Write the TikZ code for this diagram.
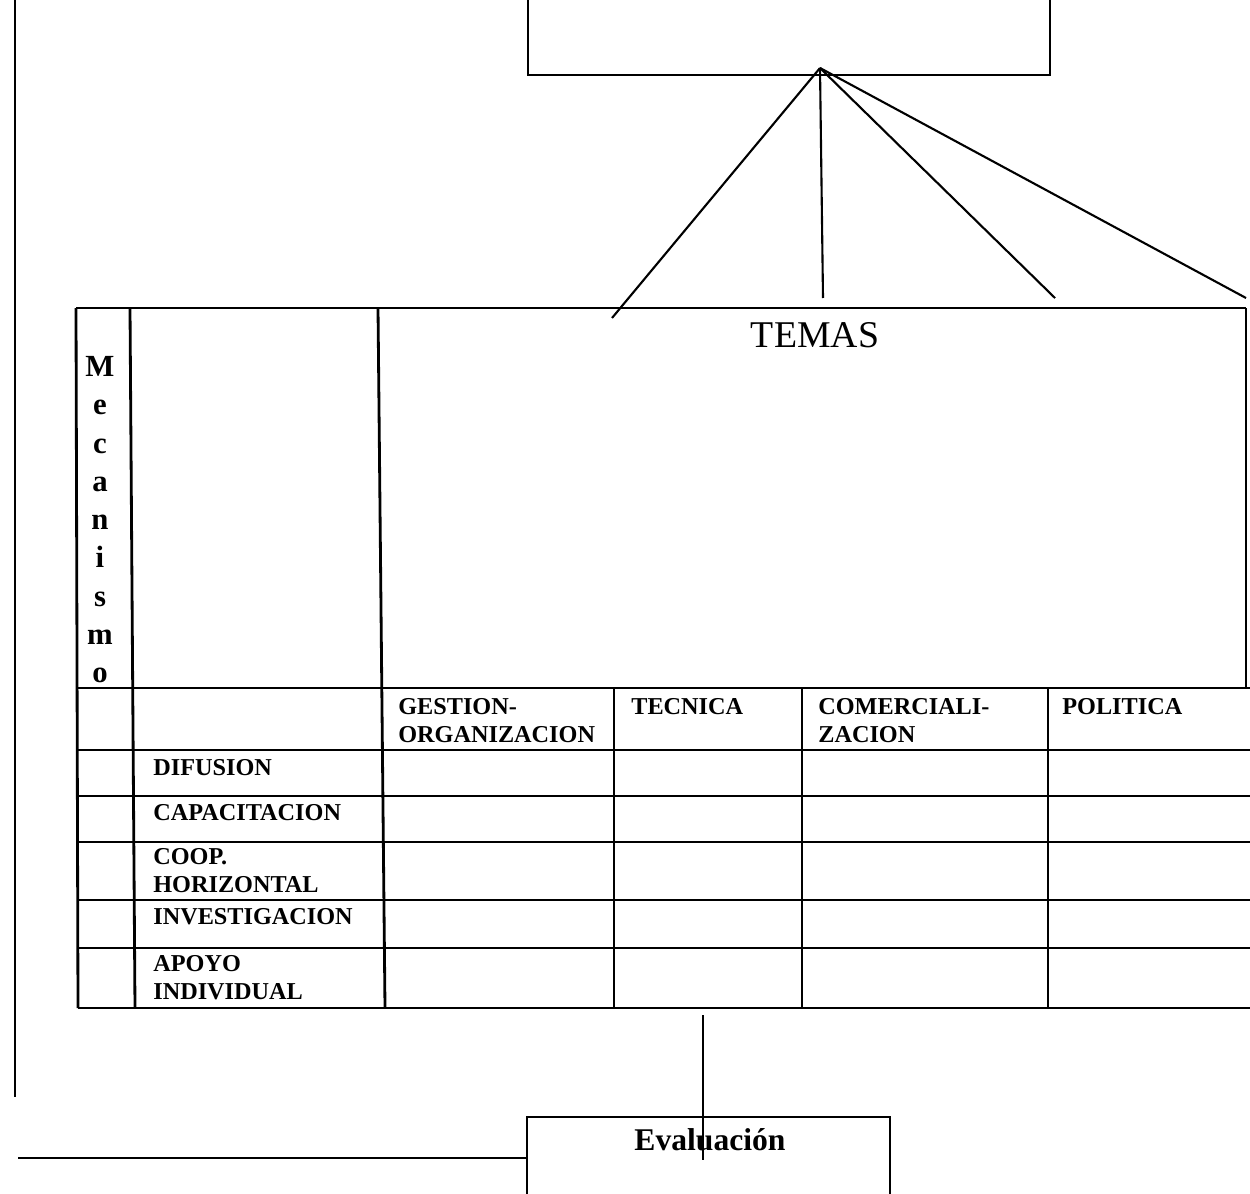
\documentclass[tikz,border=0pt]{standalone}
\usepackage{fontspec}
\setmainfont{Liberation Serif}

\tikzset{
  rejilla/.style={line width=1.6pt},
  enlace/.style={line width=1.2pt},
  caja/.style={draw,rectangle,line width=1.5pt,inner sep=0pt},
  rotulo/.style={anchor=north west,inner sep=0pt,align=left,
    font=\fontsize{13.8}{16}\selectfont\bfseries},
}

\begin{document}
\begin{tikzpicture}[x=0.02cm,y=-0.02cm]
\useasboundingbox (0,0) rectangle (1250,1193);
\clip (0,0) rectangle (1250,1193);

% cajas
\node[caja,minimum width=10.44cm,minimum height=3cm] (plan) at (789,0) {};
\node[caja,minimum width=7.26cm,minimum height=3cm] (evalcaja) at (708.5,1192) {};
\node[font=\fontsize{18}{20}\selectfont\bfseries] (eval) at (710,1140) {Evaluación};

% tabla
\draw[rejilla] (76,308) -- (1246,308);
\foreach \y in {688,750,796,842,900,948,1008}
  \draw[rejilla] (78,\y) -- (1252,\y);
\draw[rejilla] (76,308) -- (78,1008);
\draw[rejilla] (130,308) -- (135,1008);
\draw[rejilla] (378,308) -- (385,1008);
\draw[rejilla] (1246,308) -- (1246,688);
\foreach \x in {614,802,1048}
  \draw[rejilla] (\x,688) -- (\x,1008);

\node[font=\fontsize{21.5}{24}\selectfont] (temas) at (815,335) {TEMAS};
\node[anchor=north,inner sep=0pt,align=center,
  font=\fontsize{17.5}{21.8}\selectfont\bfseries] (mec) at (100,356)
  {M\\e\\c\\a\\n\\i\\s\\m\\o};

\node[rotulo] (gestion) at (398,698) {GESTION-\\ORGANIZACION};
\node[rotulo] (tecnica) at (631,698) {TECNICA};
\node[rotulo] (comer) at (818,698) {COMERCIALI-\\ZACION};
\node[rotulo] (politica) at (1062,698) {POLITICA};

\node[rotulo] (difusion) at (153,759) {DIFUSION};
\node[rotulo] (capac) at (153,804) {CAPACITACION};
\node[rotulo] (coop) at (153,848) {COOP.\\HORIZONTAL};
\node[rotulo] (invest) at (153,908) {INVESTIGACION};
\node[rotulo] (apoyo) at (153,955) {APOYO\\INDIVIDUAL};

% conectores
\coordinate (apice) at (820,68);
\coordinate (t1) at (612,318);
\coordinate (t2) at (823,298);
\coordinate (t3) at (1055,298);
\coordinate (t4) at (1246,298);
\foreach \t in {t1,t2,t3,t4}
  \draw[enlace] (apice) -- (\t);

\coordinate (izqarriba) at (15,0);
\coordinate (izqabajo) at (15,1097);
\draw[enlace] (izqarriba) -- (izqabajo);

\coordinate (izq) at (18,1158);
\draw[enlace] (izq) -- (izq -| evalcaja.west);

\coordinate (tablapie) at (703,1015);
\coordinate (evalin) at (703,1160);
\draw[enlace] (tablapie) -- (evalin);
\end{tikzpicture}
\end{document}
